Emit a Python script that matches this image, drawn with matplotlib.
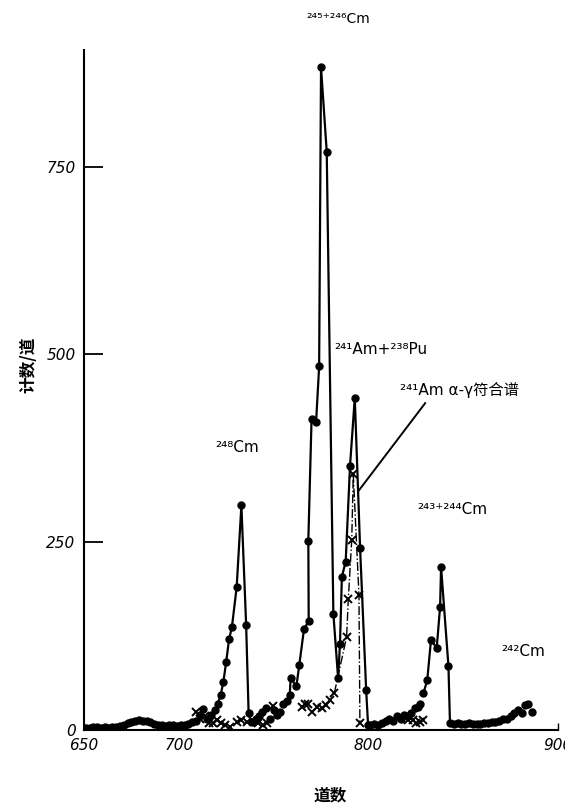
import matplotlib
matplotlib.use('Agg')
import numpy as np
import matplotlib.pyplot as plt

plt.rcParams['font.family'] = ['DejaVu Sans', 'Noto Sans CJK SC']

# total spectrum (filled dots): channel, counts per channel
main_ch = [651, 653, 655, 657, 659, 661, 663, 665, 667, 669, 671, 673, 675, 677, 679,
           681, 683, 685, 687, 689, 691, 693, 695, 697, 699, 701, 703, 705, 707, 709,
           711, 713, 715, 717, 719, 720.5, 722, 723.5, 725, 726.5, 728, 730.5, 733,
           735.5, 736.8, 738.5, 740.5, 742.5, 744, 746, 748, 750, 752, 753.5, 755,
           757, 758.5, 759, 762, 763.5, 766, 768.5, 768.3, 770, 772.4, 774, 775, 778,
           781.5, 784, 785, 786, 788, 790.3, 792.8, 795.6, 798.8, 799.8, 801, 803,
           805, 807, 809, 811, 813, 815, 817, 819, 821, 822.5, 824.5, 826, 827.2,
           829, 831, 833, 836, 837.8, 838.3, 842.2, 843, 845, 847, 849, 851, 853,
           855, 857, 859, 861, 863, 865, 867, 869, 871, 873, 875, 877, 879, 881,
           882.5, 884.2, 886]
main_cnt = [3, 3, 4, 4, 3, 4, 3, 4, 4, 5, 6, 9, 11, 12, 13,
            12, 12, 10, 8, 7, 6, 5, 6, 7, 5, 6, 7, 8, 10, 12,
            20, 28, 15, 20, 27, 35, 46, 64, 91, 121, 137, 190, 299,
            140, 23, 10, 14, 18, 24, 29, 15, 27, 20, 24, 35,
            38, 47, 69, 58, 86, 134, 145, 252, 414, 410, 484, 882, 770,
            155, 69, 115, 204, 224, 352, 442, 242, 53, 7, 6, 8,
            7, 9, 12, 15, 12, 18, 14, 20, 18, 22, 29, 31, 35,
            49, 66, 120, 109, 164, 217, 85, 9, 8, 9, 8, 8, 9,
            8, 8, 8, 9, 9, 10, 10, 12, 14, 15, 18, 22, 27, 22,
            33, 35, 24]

# 241Am alpha-gamma coincidence spectrum (crosses)
coin_ch = [709, 711, 713.8, 716, 718, 720, 722, 724.4, 727, 730.5, 733, 735.8, 739,
           742, 744.6, 746.3, 749.8, 764.8, 766.5, 768.3, 770, 772.7, 775.4, 777.5,
           779.7, 782, 788.5, 789.4, 791.2, 792, 795, 795.5, 821, 823.7, 825, 827, 829]
coin_cnt = [24, 14, 18, 9, 9, 13, 9, 7, 4, 11, 13, 11, 12,
            9, 7, 9, 32, 31, 35, 35, 24, 31, 29, 33,
            40, 49, 124, 175, 253, 341, 180, 9, 13, 13, 9, 11, 13]

# channel ranges where the points are joined by a line
main_lines = [(719, 738), (755, 800), (829, 844)]
coin_lines = [(782, 796)]

fig = plt.figure(figsize=(5.65, 8.09), dpi=100)
ax = fig.add_axes([0.1487, 0.0977, 0.839, 0.8403])

main_ch = np.array(main_ch)
main_cnt = np.array(main_cnt)
coin_ch = np.array(coin_ch)
coin_cnt = np.array(coin_cnt)

ax.plot(main_ch, main_cnt, 'o', color='black', markersize=5, zorder=3)
for lo, hi in main_lines:
    m = (main_ch >= lo) & (main_ch <= hi)
    ax.plot(main_ch[m], main_cnt[m], '-', color='black', linewidth=1.6, zorder=2)

ax.plot(coin_ch, coin_cnt, 'x', color='black', markersize=6, markeredgewidth=1.4, zorder=3)
for lo, hi in coin_lines:
    m = (coin_ch >= lo) & (coin_ch <= hi)
    ax.plot(coin_ch[m], coin_cnt[m], '-.', color='black', linewidth=1.0, zorder=2)

# pointer from the coincidence label to its curve
ax.plot([829.9, 795], [435, 319], '-', color='black', linewidth=1.4)

lab = dict(fontsize=11, style='italic', color='black')
ax.text(767, 941, '²⁴⁵⁺²⁴⁶Cm', fontsize=10, clip_on=False)
ax.text(719, 370, '²⁴⁸Cm', fontsize=11)
ax.text(782, 500, '²⁴¹Am+²³⁸Pu', fontsize=11)
ax.text(816.5, 446, '²⁴¹Am α-γ符合谱', fontsize=11)
ax.text(826, 288, '²⁴³⁺²⁴⁴Cm', fontsize=11)
ax.text(870, 98, '²⁴²Cm', fontsize=11)

ax.set_xlim(650, 900)
ax.set_ylim(0, 905)
ax.set_xticks([650, 700, 800, 900])
ax.set_xticklabels(['650', '700', '800', '900'], **lab)
ax.set_yticks([0, 250, 500, 750])
ax.set_yticklabels(['0', '250', '500', '750'], **lab)
ax.tick_params(axis='y', direction='in', length=14, width=1.3, pad=6)
ax.tick_params(axis='x', direction='in', length=5, width=1.0, pad=6)

for s in ['top', 'right']:
    ax.spines[s].set_visible(False)
for s in ['left', 'bottom']:
    ax.spines[s].set_linewidth(1.5)

fig.text(0.05, 0.549, '计数/道', rotation=90, ha='center', va='center',
         fontsize=12, fontweight='bold', family=['Noto Sans CJK SC', 'DejaVu Sans'])
fig.text(0.584, 0.017, '道数', ha='center', va='center',
         fontsize=12, fontweight='bold', family=['Noto Sans CJK SC', 'DejaVu Sans'])

fig.savefig('out.png', dpi=100)
